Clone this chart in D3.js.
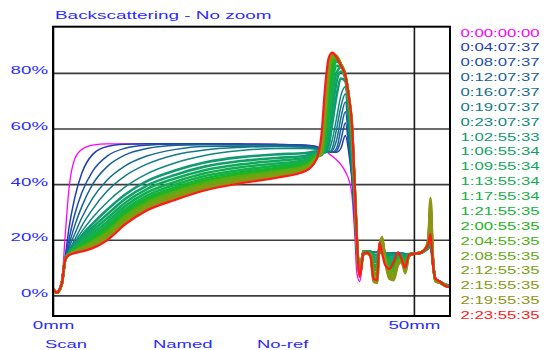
<!DOCTYPE html>
<html><head><meta charset="utf-8">
<script src="https://cdn.jsdelivr.net/npm/d3@7"></script>
<style>
  body { margin: 0; background: #fff; }
  svg { display: block; }
  text { font-family: "Liberation Sans", Arial, sans-serif; }
</style>
</head><body>
<svg id="chart" width="553" height="350"></svg>
<script>
// Sample positions along the tube height (mm)
const positionMm = [0, 0.5, 1.2, 1.7, 2.2, 3, 4, 5.5, 7.5, 10, 13, 17, 21, 26, 31, 35, 36.5,
  37.2, 37.7, 38.2, 38.7, 39.3, 39.9, 40.5, 41.0, 41.4, 41.8, 42.1, 42.5,
  43.0, 43.5, 44.0, 44.4, 44.9, 45.2, 45.6, 46.0, 46.6, 47.2, 47.8, 48.3, 48.8, 49.3,
  50.0, 50.8, 51.5, 52.0, 52.3, 52.6, 53.0, 53.6, 54.3, 55];

// Scan times (d:hh:mm:ss)
const scanTimes = ["0:00:00:00", "0:04:07:37", "0:08:07:37", "0:12:07:37", "0:16:07:37",
  "0:19:07:37", "0:23:07:37", "1:02:55:33", "1:06:55:34", "1:09:55:34", "1:13:55:34",
  "1:17:55:34", "1:21:55:35", "2:00:55:35", "2:04:55:35", "2:08:55:35", "2:12:55:35",
  "2:15:55:35", "2:19:55:35", "2:23:55:35"];

const scanColors = ["#ff00ff", "#1f3fb0", "#1a4fa5", "#175f98", "#146d8e", "#127a86",
  "#10877e", "#0f9a72", "#10a068", "#10a85c", "#12ad52", "#14b048", "#14b23c", "#20b41c",
  "#4cb014", "#66a814", "#78a014", "#849a14", "#8c9414", "#ff1a1a"];

// Backscattering (%) per scan, one row per scan time
const backscatter = [
  [3, 1.5, 5, 22, 38, 49, 52.5, 54, 54.5, 54.5, 54.5, 54.5, 54.5, 54.5, 54.3, 54, 53.5,
   52.8, 52, 51, 50, 48.7, 47, 44.5, 41.5, 36.5, 22, 8, 5,
   14, 15.5, 15.6, 15.5, 15.4, 15.4, 15.3, 15.2, 15.2, 15.1, 15.1, 15, 15, 15, 15, 15.1, 15.8, 16.8, 17.5, 12, 6, 5, 4, 3.5],
  [2.5, 1.2, 4.5, 14, 24, 35, 44, 50.7, 53.5, 54.3, 54.5, 54.5, 54.5, 54.4, 54.3, 54, 53.5,
   52.5, 52.2, 51.8, 51.5, 51.5, 53, 57.5, 51, 42, 27, 14, 8,
   16, 16, 15.8, 15.6, 15.5, 15.5, 15.4, 15.3, 15.3, 15.2, 15.2, 15.1, 15, 15, 15, 15.2, 16, 17, 18, 12, 6, 5, 4, 3.5],
  [2.5, 1.1, 4.3, 13.5, 20, 29, 37, 44.7, 50.1, 52.9, 54, 54.4, 54.4, 54.3, 54.2, 53.9, 53.4,
   52.3, 52, 51.7, 51.5, 52, 56, 62, 53, 43, 28, 14, 8,
   16, 16, 15.8, 15.6, 15.5, 15.5, 15.4, 15.3, 15.3, 15.2, 15.2, 15.1, 15, 15, 15, 15.2, 16, 17, 18, 12, 6, 5, 4, 3.5],
  [2.4, 1.1, 4.2, 13.3, 18, 25, 32, 40, 46.3, 50.5, 52.8, 54, 54.2, 54.1, 54, 53.7, 53.2,
   52.2, 51.8, 51.5, 51.5, 53, 60, 66, 55, 44, 29, 15, 8,
   16, 16, 15.8, 15.6, 15.5, 15.5, 15.4, 15.3, 15.3, 15.2, 15.2, 15.1, 15, 15, 15, 15.2, 16, 17, 18, 12, 6, 5, 4, 3.5],
  [2.4, 1.1, 4.1, 13.2, 17, 22, 28, 35, 41.5, 46.6, 50.1, 52.5, 53.5, 53.6, 53.6, 53.4, 53,
   52, 51.7, 51.5, 52, 56, 64, 69.5, 57, 45, 30, 15, 8,
   16, 16, 15.8, 15.6, 15.5, 15.5, 15.4, 15.3, 15.3, 15.2, 15.2, 15.1, 15, 15, 15, 15.2, 16, 17, 18, 12, 6, 5, 4, 3.5],
  [2.4, 1.0, 4.1, 13.1, 16, 20, 25, 31, 37.5, 43, 47.2, 50.6, 52.3, 53.2, 53.5, 53.3, 52.8,
   51.8, 51.5, 51.5, 53, 60, 68, 72.5, 59, 46, 31, 15, 8,
   16, 16, 15.8, 15.6, 15.5, 15.5, 15.4, 15.3, 15.3, 15.2, 15.2, 15.1, 15, 15, 15, 15.2, 16, 17, 18, 12, 6, 5, 4, 3.5],
  [2.3, 1.0, 4.0, 13, 15.5, 19, 23, 28, 33.5, 39, 43.7, 47.7, 50.3, 52.1, 52.8, 52.8, 52.5,
   51.5, 51.3, 52, 56, 64, 72, 75, 61, 47, 32, 16, 8,
   16, 16, 15.8, 15.6, 15.5, 15.5, 15.4, 15.3, 15.3, 15.2, 15.2, 15.1, 15, 15, 15, 15.2, 16, 17, 18, 12, 6, 5, 4, 3.5],
  [2.3, 1.0, 4, 13, 15.3, 18.2, 21.6, 25.8, 30.8, 36.3, 41.1, 45.0, 47.8, 49.7, 50.7, 51.2, 51.8,
   51.2, 51.5, 54, 62, 72, 78, 77, 66, 52, 34, 17, 8,
   15.9, 15.9, 15.7, 14.8, 14.6, 15.6, 15.8, 15.1, 14.6, 14.4, 14.9, 14.9, 14.4, 14.9, 15, 15.2, 16, 17.2, 19.4, 12.2, 5.9, 5, 4, 3.5],
  [2.3, 1.0, 4, 13, 15.2, 17.8, 20.7, 24.5, 29.1, 34.7, 39.5, 43.4, 46.3, 48.3, 49.4, 50.2, 51.4,
   51, 52, 57, 67, 77, 80.5, 78, 67, 54, 35, 17.5, 8,
   15.8, 15.8, 15.5, 13.8, 13.6, 15.8, 16.4, 14.9, 13.7, 13.6, 14.5, 14.6, 13.8, 14.8, 15, 15.2, 16.1, 17.5, 20.9, 12.5, 5.8, 4.9, 3.9, 3.4],
  [2.3, 1.0, 4, 13, 15.1, 17.4, 20, 23.4, 27.7, 33.3, 38.2, 42.1, 45, 47.1, 48.4, 49.4, 51,
   50.8, 53, 60, 72, 80, 82, 78.5, 68, 56, 36, 18, 8,
   15.8, 15.8, 15.4, 13, 12.8, 15.9, 16.8, 14.7, 13, 12.8, 14.2, 14.3, 13.3, 14.8, 15, 15.2, 16.1, 17.8, 22.3, 12.8, 5.8, 4.9, 3.9, 3.4],
  [2.4, 1.0, 4, 13, 15, 17.1, 19.3, 22.4, 26.5, 32.1, 37, 40.9, 43.9, 46.1, 47.4, 48.7, 50.7,
   50.6, 54, 64, 76, 82.5, 82.5, 79, 69, 57, 36.5, 18.5, 8,
   15.7, 15.7, 15.2, 12.1, 11.9, 16, 17.2, 14.5, 12.2, 12, 13.8, 14, 12.7, 14.7, 15, 15.2, 16.2, 18, 23.6, 13, 5.7, 4.8, 3.8, 3.3],
  [2.4, 1.0, 4, 13, 14.9, 16.8, 18.8, 21.5, 25.4, 31, 35.9, 39.9, 42.9, 45.1, 46.6, 48, 50.4,
   50.5, 56, 68, 79, 84, 83, 79, 69.5, 58, 37, 19, 8,
   15.6, 15.6, 15, 11.1, 10.9, 16.1, 17.8, 14.3, 11.4, 11.1, 13.4, 13.8, 12.1, 14.6, 15, 15.2, 16.2, 18.3, 25.1, 13.3, 5.6, 4.8, 3.8, 3.3],
  [2.4, 1.0, 4, 13, 14.8, 16.5, 18.2, 20.7, 24.5, 30.1, 35, 38.9, 42, 44.3, 45.9, 47.5, 50.2,
   50.5, 58, 72, 81.5, 84.8, 83, 79, 70, 59, 37.5, 19, 8,
   15.5, 15.5, 14.9, 10.3, 10, 16.3, 18.2, 14.2, 10.7, 10.4, 13.1, 13.6, 11.5, 14.5, 15, 15.3, 16.3, 18.5, 26.5, 13.5, 5.5, 4.8, 3.8, 3.3],
  [2.4, 1.0, 4, 13, 14.8, 16.3, 17.8, 20.1, 23.6, 29.3, 34.2, 38.1, 41.2, 43.6, 45.2, 47, 50,
   50.6, 60, 75, 83.5, 85.3, 83, 79, 70.5, 60, 38, 19, 8,
   15.4, 15.4, 14.8, 9.5, 9.1, 16.4, 18.6, 14, 9.9, 9.6, 12.8, 13.3, 10.9, 14.4, 15, 15.3, 16.3, 18.7, 27.9, 13.7, 5.4, 4.7, 3.7, 3.2],
  [2.5, 1.0, 4, 13, 14.7, 16, 17.4, 19.4, 22.8, 28.5, 33.4, 37.3, 40.5, 42.9, 44.6, 46.5, 49.8,
   50.8, 62, 78, 85, 85.5, 83, 79, 71, 60.5, 38, 19.5, 7.5,
   15.3, 15.3, 14.6, 8.5, 8.1, 16.5, 19.2, 13.8, 9.1, 8.7, 12.4, 13, 10.3, 14.3, 15, 15.3, 16.3, 19, 29.4, 14, 5.3, 4.7, 3.7, 3.2],
  [2.5, 1.0, 4, 13, 14.7, 15.8, 17, 18.9, 22.1, 27.8, 32.7, 36.7, 39.8, 42.3, 44.1, 46.1, 49.6,
   51, 64, 80, 86, 85.8, 83, 79, 71, 61, 38.5, 19.5, 7.5,
   15.3, 15.3, 14.5, 7.7, 7.3, 16.6, 19.6, 13.6, 8.3, 7.9, 12.1, 12.8, 9.8, 14.3, 15, 15.3, 16.4, 19.3, 30.8, 14.3, 5.3, 4.6, 3.6, 3.1],
  [2.5, 1.0, 4, 13, 14.6, 15.7, 16.7, 18.4, 21.5, 27.2, 32.1, 36.1, 39.3, 41.8, 43.6, 45.7, 49.4,
   51.5, 66, 81.5, 86.5, 86, 83, 79, 71, 61.5, 38.5, 20, 7.5,
   15.2, 15.2, 14.3, 6.8, 6.4, 16.7, 20.1, 13.4, 7.6, 7.2, 11.7, 12.5, 9.2, 14.2, 15, 15.3, 16.4, 19.5, 32.1, 14.5, 5.2, 4.6, 3.6, 3.1],
  [2.5, 1.0, 4, 13, 14.6, 15.5, 16.4, 17.9, 20.9, 26.6, 31.6, 35.5, 38.7, 41.2, 43.1, 45.3, 49.3,
   52, 68, 83, 86.8, 85.8, 82.8, 79, 71, 61.5, 38.5, 20, 7,
   15.1, 15.1, 14.2, 5.9, 5.4, 16.9, 20.6, 13.2, 6.7, 6.3, 11.3, 12.2, 8.6, 14.1, 15, 15.3, 16.5, 19.8, 33.6, 14.8, 5.1, 4.5, 3.5, 3],
  [2.5, 1.0, 4, 13, 14.5, 15.4, 16.1, 17.4, 20.3, 26, 31, 34.9, 38.2, 40.8, 42.7, 45, 49.1,
   53, 71, 84, 87, 85.7, 82.7, 79, 71, 62, 39, 20, 7,
   15, 15, 14, 5, 4.5, 17, 21, 13, 6, 5.5, 11, 12, 8, 14, 15, 15.3, 16.5, 20, 35, 15, 5, 4.5, 3.5, 3],
  [2.5, 1.0, 4, 13, 14.5, 15.2, 15.8, 17, 19.8, 25.5, 30.5, 34.4, 37.7, 40.3, 42.3, 44.7, 49,
   58, 75, 85.5, 87.3, 85.5, 82.5, 79, 71, 62, 39, 20, 6.6,
   15, 15.5, 14, 6, 5.5, 19, 15, 11, 9.5, 12, 15.5, 13, 10, 14.5, 15, 15.2, 16.5, 18.5, 22, 12, 6, 5, 3.5, 3]
];

const percentTicks = [0, 20, 40, 60, 80];
const mmTicks = [0, 50];
const footerLabels = ["Scan", "Named", "No-ref"];
const footerX = [45, 153, 257];

const textBlue = "#2b2bff";
const svg = d3.select("#chart");

const x = d3.scaleLinear().domain([0, 55]).range([53, 450]);
const y = d3.scaleLinear().domain([-7.4, 96.6]).range([316, 26.7]);

// Horizontal grid + percent labels
const yAxis = svg.append("g")
  .attr("transform", `translate(${x(0)},0)`)
  .call(d3.axisLeft(y).tickValues(percentTicks)
    .tickSize(-(x(55) - x(0)))
    .tickFormat(d => d + "%"));
yAxis.select(".domain").remove();
yAxis.selectAll("line").attr("stroke", "#3c3c3c").attr("stroke-width", 1.6);
yAxis.selectAll("text")
  .attr("x", null).attr("dy", null)
  .attr("text-anchor", "end")
  .attr("transform", "translate(-5,1) scale(1.7,1)")
  .attr("fill", textBlue)
  .style("font-size", "11px")
  .style("font-family", '"Liberation Sans", Arial, sans-serif');

// Vertical grid + mm labels
const xAxis = svg.append("g")
  .attr("transform", `translate(0,${y(-7.4)})`)
  .call(d3.axisBottom(x).tickValues(mmTicks)
    .tickSize(-(y(-7.4) - y(96.6)))
    .tickFormat(d => d + "mm"));
xAxis.select(".domain").remove();
xAxis.selectAll("line").attr("stroke", "#1a1a1a").attr("stroke-width", 1.6);
xAxis.selectAll("text")
  .attr("y", null).attr("dy", null)
  .attr("text-anchor", "middle")
  .attr("transform", "translate(0,13) scale(1.7,1)")
  .attr("fill", textBlue)
  .style("font-size", "11px")
  .style("font-family", '"Liberation Sans", Arial, sans-serif');

// Scan profiles, earliest first so the last scan lies on top
const line = d3.line()
  .x((d, i) => x(positionMm[i]))
  .y(d => y(d))
  .curve(d3.curveMonotoneX);

const widths = backscatter.map((_, k) =>
  k === 0 ? 1.3 : k === backscatter.length - 1 ? 2.2 : k < 7 ? 1.5 : 2.6);

svg.append("g")
  .selectAll("path")
  .data(backscatter)
  .join("path")
  .attr("d", line)
  .attr("fill", "none")
  .attr("stroke", (d, k) => scanColors[k])
  .attr("stroke-width", (d, k) => widths[k])
  .attr("stroke-linejoin", "round");

// Plot frame
svg.append("rect")
  .attr("x", x(0)).attr("y", y(96.6))
  .attr("width", x(55) - x(0)).attr("height", y(-7.4) - y(96.6))
  .attr("fill", "none").attr("stroke", "#000").attr("stroke-width", 2);

// Title
svg.append("text")
  .attr("transform", "translate(55,19) scale(1.72,1)")
  .attr("fill", textBlue)
  .style("font-size", "11px")
  .text("Backscattering - No zoom");

// Legend of scan times
svg.append("g")
  .selectAll("text")
  .data(scanTimes)
  .join("text")
  .attr("transform", (d, i) => `translate(460.5,${36.5 + i * 14.87}) scale(1.52,1)`)
  .attr("fill", (d, i) => scanColors[i])
  .style("font-size", "11px")
  .text(d => d);

// Footer labels
svg.append("g")
  .selectAll("text")
  .data(footerLabels)
  .join("text")
  .attr("transform", (d, i) => `translate(${footerX[i]},348) scale(1.68,1)`)
  .attr("fill", textBlue)
  .style("font-size", "11px")
  .text(d => d);
</script>
</body></html>
